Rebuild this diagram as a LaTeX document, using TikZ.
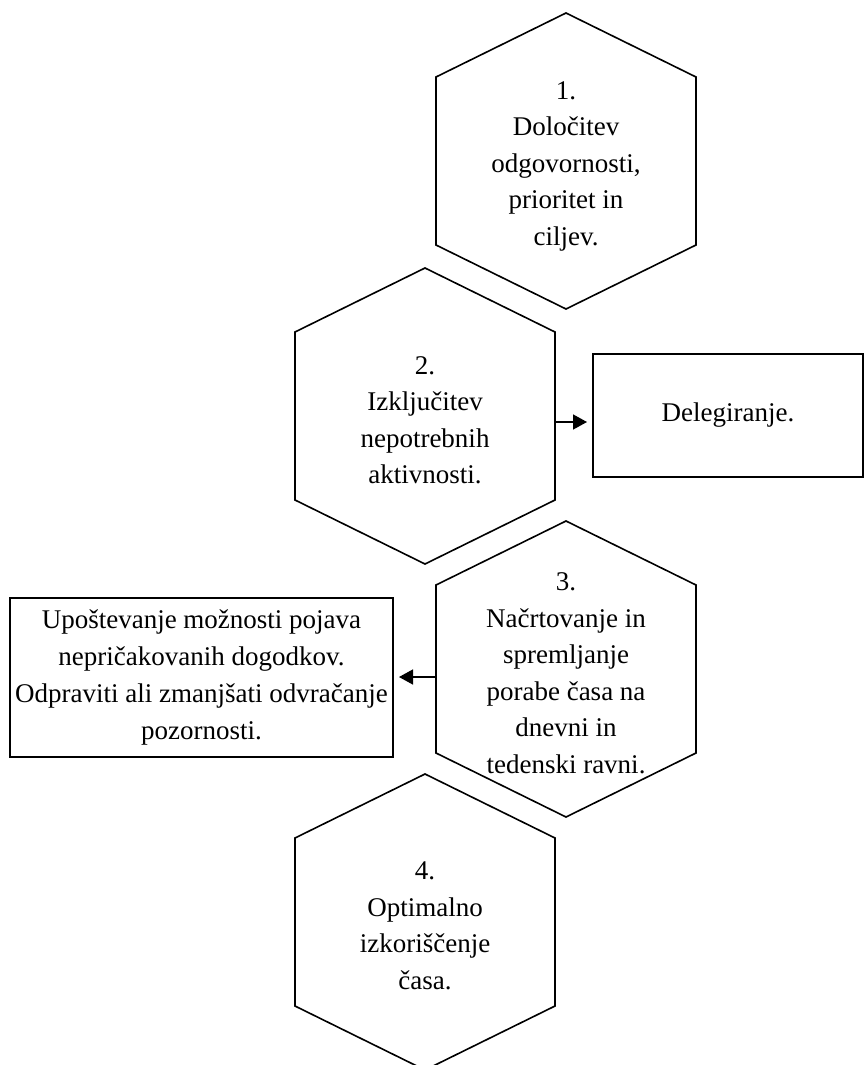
\documentclass[tikz,border=0pt]{standalone}
\usepackage{fontspec}
\setmainfont{Liberation Serif}
\usetikzlibrary{arrows.meta,calc}

\begin{document}
\begin{tikzpicture}[x=1pt, y=-1pt,
    hexline/.style={black, line width=1.6pt, line join=miter},
    hextext/.style={align=center, inner sep=0pt, font=\fontsize{27}{36.5}\selectfont},
    sidebox/.style={draw, black, line width=2pt, align=center, inner sep=0pt, font=\fontsize{27}{36.8}\selectfont},
    arr/.style={-{Triangle[length=14pt,width=15pt]}, line width=1.5pt, shorten >=5pt}]
            \useasboundingbox (0,0) rectangle (865,1065);

            \coordinate (c1) at (566,161);
            \coordinate (c2) at (425,416);
            \coordinate (c3) at (566,669);
            \coordinate (c4) at (425,922);

            \draw[hexline] (c1) ++(0,-148) -- ++(130,64) -- ++(0,168) -- ++(-130,64) -- ++(-130,-64) -- ++(0,-168) -- cycle;
            \draw[hexline] (c2) ++(0,-148) -- ++(130,64) -- ++(0,168) -- ++(-130,64) -- ++(-130,-64) -- ++(0,-168) -- cycle;
            \draw[hexline] (c3) ++(0,-148) -- ++(130,64) -- ++(0,168) -- ++(-130,64) -- ++(-130,-64) -- ++(0,-168) -- cycle;
            \draw[hexline] (c4) ++(0,-148) -- ++(130,64) -- ++(0,168) -- ++(-130,64) -- ++(-130,-64) -- ++(0,-168) -- cycle;

            \node[hextext] (h1) at ($(c1)+(0,5)$) {1.\\Določitev\\odgovornosti,\\prioritet in\\ciljev.};
            \node[hextext] (h2) at ($(c2)+(0,4)$) {2.\\Izključitev\\nepotrebnih\\aktivnosti.};
            \node[hextext] (h3) at ($(c3)+(0,4)$) {3.\\Načrtovanje in\\spremljanje\\porabe časa na\\dnevni in\\tedenski ravni.};
            \node[hextext] (h4) at ($(c4)+(0,4)$) {4.\\Optimalno\\izkoriščenje\\časa.};

            \node[sidebox, minimum width=270pt, minimum height=123pt] (deleg) at (728,415.5) {Delegiranje.};
            \node[sidebox, minimum width=383pt, minimum height=159pt] (motnje) at (201.5,677.5) {Upoštevanje možnosti pojava\\nepričakovanih dogodkov.\\Odpraviti ali zmanjšati odvračanje\\pozornosti.};

            \coordinate (h2r) at ($(c2)+(130,6)$);
            \coordinate (h3l) at ($(c3)+(-130,8)$);
            \draw[arr] (h2r) -- (h2r -| deleg.west);
            \draw[arr] (h3l) -- (h3l -| motnje.east);
        \end{tikzpicture}
\end{document}
